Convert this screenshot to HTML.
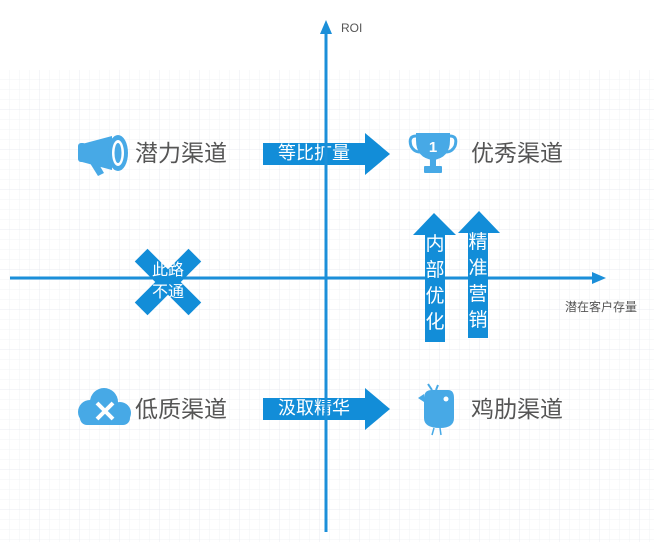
<!DOCTYPE html>
<html><head><meta charset="utf-8"><style>
body{margin:0;width:654px;height:542px;overflow:hidden;background:#fff;font-family:"Liberation Sans","Noto Sans CJK SC",sans-serif}
</style></head><body>
<svg width="654" height="542" xmlns="http://www.w3.org/2000/svg" style="position:absolute;left:0;top:0">
<defs>
<pattern id="g" width="10" height="10" patternUnits="userSpaceOnUse" x="0" y="70">
<path d="M10 0V10M0 10H10" stroke="#f1f3f6" stroke-width="1" fill="none"/>
</pattern>
<pattern id="g2" width="40" height="40" patternUnits="userSpaceOnUse" x="0" y="70">
<path d="M40 0V40M0 40H40" stroke="#e8ebf0" stroke-width="1" fill="none"/>
</pattern>
</defs>
<rect x="0" y="70" width="654" height="472" fill="url(#g)"/>
<rect x="0" y="70" width="654" height="472" fill="url(#g2)"/>
<!-- horizontal arrows -->
<polygon points="263,143 365,143 365,133 390,154 365,175 365,165 263,165" fill="#128dd8"/>
<text x="314" y="159" font-size="18" fill="#fff" text-anchor="middle">等比扩量</text>
<polygon points="263,398 365,398 365,388 390,409 365,430 365,420 263,420" fill="#128dd8"/>
<text x="314" y="414" font-size="18" fill="#fff" text-anchor="middle">汲取精华</text>
<!-- axes -->
<line x1="326" y1="30" x2="326" y2="532" stroke="#1b8fd9" stroke-width="3"/>
<polygon points="326,20 320,34 332,34" fill="#1b8fd9"/>
<line x1="10" y1="278" x2="596" y2="278" stroke="#1b8fd9" stroke-width="3"/>
<polygon points="606,278 592,272 592,284" fill="#1b8fd9"/>
<text x="341" y="32" font-size="12" fill="#555">ROI</text>
<text x="565" y="311" font-size="12" fill="#555">潜在客户存量</text>
<!-- vertical arrows -->
<polygon points="425,342 445,342 445,235 456,235 434,213 413,235 425,235" fill="#128dd8"/>
<g font-size="19" fill="#fff" text-anchor="middle">
<text x="435" y="250">内</text><text x="435" y="276">部</text><text x="435" y="302">优</text><text x="435" y="328">化</text>
</g>
<polygon points="468,338 488,338 488,233 500,233 479,211 458,233 468,233" fill="#128dd8"/>
<g font-size="19" fill="#fff" text-anchor="middle">
<text x="478" y="248">精</text><text x="478" y="274">准</text><text x="478" y="300">营</text><text x="478" y="326">销</text>
</g>
<!-- X -->
<g transform="translate(168,282)" fill="#128dd8">
<rect x="-38" y="-9" width="76" height="18" transform="rotate(45)"/>
<rect x="-38" y="-9" width="76" height="18" transform="rotate(-45)"/>
</g>
<text x="168" y="275" font-size="16" fill="#fff" text-anchor="middle">此路</text>
<text x="168" y="297" font-size="16" fill="#fff" text-anchor="middle">不通</text>
<!-- labels -->
<g font-size="23" fill="#555">
<text x="135" y="161">潜力渠道</text>
<text x="471" y="161">优秀渠道</text>
<text x="135" y="417">低质渠道</text>
<text x="471" y="417">鸡肋渠道</text>
</g>
<!-- megaphone -->
<g fill="#47a9e6">
<path d="M82 144 L112 136 L112 170 L82 162 Z"/>
<rect x="78" y="143" width="8" height="19" rx="3"/>
<path d="M88 160 L98 176 L104 173 L97 161 Z"/>
<ellipse cx="118" cy="153" rx="10" ry="18"/>
<ellipse cx="118" cy="153" rx="6" ry="13" fill="#fff"/>
<ellipse cx="118" cy="153" rx="3.5" ry="10" fill="#47a9e6"/>
</g>
<!-- trophy -->
<g fill="#47a9e6">
<path d="M416 133 H450 V140 Q450 158 433 160 Q416 158 416 140 Z"/>
<path d="M416 136 Q408 136 411 146 Q414 152 420 152" stroke="#47a9e6" stroke-width="3" fill="none"/>
<path d="M450 136 Q458 136 455 146 Q452 152 446 152" stroke="#47a9e6" stroke-width="3" fill="none"/>
<rect x="430" y="158" width="6" height="10"/>
<rect x="424" y="166" width="18" height="7" rx="1"/>
<text x="433" y="152" font-size="15" font-weight="bold" fill="#fff" text-anchor="middle">1</text>
</g>
<!-- cloud -->
<g fill="#47a9e6">
<circle cx="90" cy="412" r="12"/>
<circle cx="104" cy="402" r="14"/>
<circle cx="120" cy="413" r="11"/>
<rect x="80" y="410" width="50" height="15" rx="7"/>
<path d="M97 403 L113 419 M113 403 L97 419" stroke="#fff" stroke-width="4"/>
</g>
<!-- bird -->
<g fill="#47a9e6">
<path d="M424 398 Q424 390 432 390 L448 390 Q454 390 454 398 L454 418 Q454 428 440 428 Q424 428 424 418 Z"/>
<path d="M424 394 L418 398 L424 402 Z"/>
<path d="M432 390 L428 384 M436 390 L438 385" stroke="#47a9e6" stroke-width="2"/>
<circle cx="446" cy="399" r="2.5" fill="#fff"/>
<path d="M434 428 L432 435 M440 428 L441 435" stroke="#47a9e6" stroke-width="1.5"/>
</g>
</svg>
</body></html>
